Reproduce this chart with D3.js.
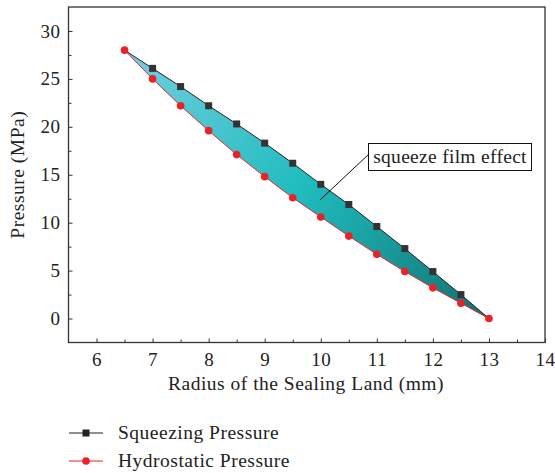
<!DOCTYPE html>
<html>
<head>
<meta charset="utf-8">
<script src="https://cdn.jsdelivr.net/npm/d3@7"></script>
<style>
  body { margin: 0; background: #fff; }
  svg text { font-family: "Liberation Serif", "Times New Roman", serif; fill: #222; }
</style>
</head>
<body>
<div id="chart"></div>
<script>
const radius = [6.5, 7, 7.5, 8, 8.5, 9, 9.5, 10, 10.5, 11, 11.5, 12, 12.5, 13];
const squeezing = [28, 26.1, 24.2, 22.2, 20.3, 18.3, 16.2, 14.0, 11.9, 9.6, 7.3, 4.9, 2.5, 0];
const hydrostatic = [28, 25.0, 22.2, 19.6, 17.1, 14.8, 12.6, 10.6, 8.6, 6.7, 4.9, 3.2, 1.6, 0];
const xTicks = [6, 7, 8, 9, 10, 11, 12, 13, 14];
const yTicks = [0, 5, 10, 15, 20, 25, 30];

const width = 555, height = 473;
const serif = "'Liberation Serif', 'Times New Roman', serif";
const svg = d3.select("#chart").append("svg")
    .attr("width", width)
    .attr("height", height);

const x = d3.scaleLinear().domain([5.5, 14]).range([68.5, 545]);
const y = d3.scaleLinear().domain([-2.5, 32.5]).range([342.5, 7]);

// gradient for the squeeze film area
const grad = svg.append("defs").append("linearGradient")
    .attr("id", "film")
    .attr("gradientUnits", "userSpaceOnUse")
    .attr("x1", x(6.5)).attr("y1", y(28))
    .attr("x2", x(13)).attr("y2", y(0));
grad.append("stop").attr("offset", "0%").attr("stop-color", "#74cfe0");
grad.append("stop").attr("offset", "50%").attr("stop-color", "#1fbcbe");
grad.append("stop").attr("offset", "100%").attr("stop-color", "#137070");

const pts = radius.map((r, i) => ({r: r, s: squeezing[i], h: hydrostatic[i]}));

svg.append("path")
    .datum(pts)
    .attr("fill", "url(#film)")
    .attr("d", d3.area().x(d => x(d.r)).y0(d => y(d.h)).y1(d => y(d.s)));

// axes: ticks pointing inwards
const axisColor = "#333";
svg.append("g")
    .attr("transform", `translate(0,${y(-2.5)})`)
    .call(d3.axisBottom(x).tickValues(xTicks).tickSizeInner(-4).tickSizeOuter(0).tickPadding(10));
svg.append("g")
    .attr("transform", `translate(${x(5.5)},0)`)
    .call(d3.axisLeft(y).tickValues(yTicks).tickSizeInner(-4).tickSizeOuter(0).tickPadding(8));

// minor ticks
svg.append("g")
    .attr("transform", `translate(0,${y(-2.5)})`)
    .call(d3.axisBottom(x).tickValues(d3.range(6.5, 14, 1)).tickSizeInner(-3).tickSizeOuter(0).tickFormat(""));
svg.append("g")
    .attr("transform", `translate(${x(5.5)},0)`)
    .call(d3.axisLeft(y).tickValues(d3.range(2.5, 32.5, 5)).tickSizeInner(-3).tickSizeOuter(0).tickFormat(""));

svg.selectAll(".domain").remove();
svg.selectAll("g").attr("font-family", serif).attr("font-size", 19);
svg.selectAll(".tick line").attr("stroke", axisColor);
svg.selectAll(".tick text")
    .attr("fill", "#222")
    .style("letter-spacing", "0.5px");

// frame
svg.append("rect")
    .attr("x", x(5.5)).attr("y", y(32.5))
    .attr("width", x(14) - x(5.5))
    .attr("height", y(-2.5) - y(32.5))
    .attr("fill", "none")
    .attr("stroke", axisColor)
    .attr("stroke-width", 1.3);

// lines
svg.append("path")
    .datum(pts)
    .attr("fill", "none")
    .attr("stroke", "#e8242b")
    .attr("stroke-width", 1)
    .attr("d", d3.line().x(d => x(d.r)).y(d => y(d.h)));
svg.append("path")
    .datum(pts)
    .attr("fill", "none")
    .attr("stroke", "#222")
    .attr("stroke-width", 1)
    .attr("d", d3.line().x(d => x(d.r)).y(d => y(d.s)));

// markers (first/last squares hidden under the red circles)
svg.selectAll(".sq")
    .data(pts.slice(1, -1))
    .enter().append("rect")
    .attr("class", "sq")
    .attr("x", d => x(d.r) - 3.5)
    .attr("y", d => y(d.s) - 3.5)
    .attr("width", 7).attr("height", 7)
    .attr("fill", "#333");
svg.selectAll(".dot")
    .data(pts)
    .enter().append("circle")
    .attr("class", "dot")
    .attr("cx", d => x(d.r))
    .attr("cy", d => y(d.h))
    .attr("r", 3.8)
    .attr("fill", "#ec2027");

// annotation
svg.append("line")
    .attr("x1", 320).attr("y1", 200)
    .attr("x2", 369).attr("y2", 154)
    .attr("stroke", "#111").attr("stroke-width", 1);
svg.append("rect")
    .attr("x", 368.5).attr("y", 143.5)
    .attr("width", 163).attr("height", 27)
    .attr("fill", "#fff")
    .attr("stroke", "#111").attr("stroke-width", 1);
svg.append("text")
    .attr("x", 450).attr("y", 163)
    .attr("text-anchor", "middle")
    .style("font-size", "19.5px")
    .style("letter-spacing", "0.3px")
    .text("squeeze film effect");

// axis titles
svg.append("text")
    .attr("x", 306).attr("y", 390)
    .attr("text-anchor", "middle")
    .style("font-size", "19.5px")
    .style("letter-spacing", "0.5px")
    .text("Radius of the Sealing Land (mm)");
svg.append("text")
    .attr("transform", `translate(24,${y(15)}) rotate(-90)`)
    .attr("text-anchor", "middle")
    .style("font-size", "19.5px")
    .style("letter-spacing", "0.5px")
    .text("Pressure (MPa)");

// legend
const legend = [
    {name: "Squeezing Pressure", color: "#222", shape: "square"},
    {name: "Hydrostatic Pressure", color: "#ec2027", shape: "circle"}
];
legend.forEach((l, i) => {
    const ly = 433 + i * 28;
    const g = svg.append("g");
    g.append("line")
        .attr("x1", 69).attr("x2", 103)
        .attr("y1", ly).attr("y2", ly)
        .attr("stroke", l.color).attr("stroke-width", 1.2);
    if (l.shape === "square") {
        g.append("rect").attr("x", 82.5).attr("y", ly - 3.5)
            .attr("width", 7).attr("height", 7).attr("fill", l.color);
    } else {
        g.append("circle").attr("cx", 86).attr("cy", ly).attr("r", 3.8).attr("fill", l.color);
    }
    g.append("text")
        .attr("x", 118).attr("y", ly + 6)
        .style("font-size", "19.5px")
        .style("letter-spacing", "0.5px")
        .text(l.name);
});
</script>
</body>
</html>
